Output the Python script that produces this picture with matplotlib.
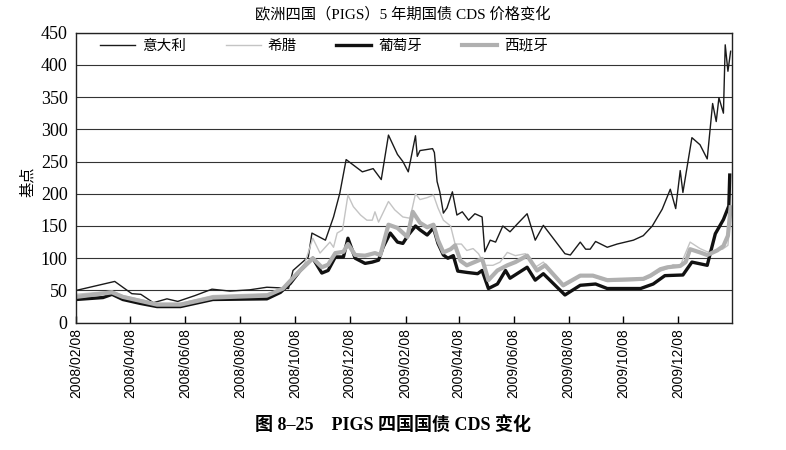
import pandas as pd
import matplotlib
matplotlib.use("Agg")
import matplotlib.pyplot as plt
import matplotlib.dates as mdates

plt.rcParams['font.family'] = ['Liberation Serif', 'Noto Sans CJK SC']

# ---- data (basis points) ----
italy_dates = ['2008-02-08', '2008-03-22', '2008-04-10', '2008-04-20', '2008-05-04', '2008-05-19',
               '2008-05-31', '2008-06-19', '2008-07-08', '2008-07-28', '2008-08-19', '2008-09-07',
               '2008-09-22', '2008-10-01', '2008-10-06', '2008-10-23', '2008-10-27', '2008-11-11',
               '2008-11-20', '2008-11-27', '2008-12-04', '2008-12-22', '2009-01-03', '2009-01-12',
               '2009-01-20', '2009-01-30', '2009-02-05', '2009-02-11', '2009-02-19', '2009-02-21',
               '2009-02-24', '2009-03-10', '2009-03-12', '2009-03-15', '2009-03-18', '2009-03-22',
               '2009-03-26', '2009-04-01', '2009-04-06', '2009-04-12', '2009-04-19', '2009-04-26',
               '2009-05-04', '2009-05-07', '2009-05-13', '2009-05-19', '2009-05-27', '2009-06-04',
               '2009-06-12', '2009-06-23', '2009-07-02', '2009-07-11', '2009-08-04', '2009-08-10',
               '2009-08-21', '2009-08-27', '2009-09-01', '2009-09-07', '2009-09-20', '2009-10-01',
               '2009-10-19', '2009-10-30', '2009-11-09', '2009-11-20', '2009-11-29', '2009-12-05',
               '2009-12-10', '2009-12-13', '2009-12-23', '2010-01-01', '2010-01-09', '2010-01-15',
               '2010-01-19', '2010-01-22', '2010-01-27', '2010-01-29', '2010-02-01', '2010-02-04']
italy = [50, 64, 45, 44, 31, 37,
         33, 42, 52, 49, 51, 55,
         54, 53, 81, 102, 139, 128,
         164, 201, 253, 234, 239, 222,
         291, 261, 250, 234, 290, 258,
         267, 270, 264, 219, 203, 170,
         178, 203, 167, 172, 159, 169,
         164, 110, 128, 125, 150, 141,
         153, 169, 128, 151, 107, 105,
         125, 114, 114, 126, 117, 122,
         128, 135, 150, 176, 207, 177,
         236, 202, 287, 276, 254, 340,
         312, 349, 325, 431, 390, 421]

greece_dates = ['2008-02-08', '2008-03-19', '2008-03-31', '2008-05-08', '2008-06-03', '2008-07-09',
                '2008-09-07', '2008-09-25', '2008-10-06', '2008-10-19', '2008-10-28', '2008-11-05',
                '2008-11-16', '2008-11-20', '2008-11-24', '2008-11-30', '2008-12-06', '2008-12-12',
                '2008-12-20', '2008-12-27', '2009-01-02', '2009-01-05', '2009-01-09', '2009-01-20',
                '2009-01-27', '2009-02-05', '2009-02-13', '2009-02-19', '2009-02-24', '2009-03-04',
                '2009-03-11', '2009-03-16', '2009-03-22', '2009-03-30', '2009-04-04', '2009-04-11',
                '2009-04-17', '2009-04-24', '2009-04-30', '2009-05-07', '2009-05-16', '2009-05-24',
                '2009-06-01', '2009-06-10', '2009-06-21', '2009-07-02', '2009-07-11', '2009-08-02',
                '2009-08-21', '2009-09-04', '2009-09-20', '2009-10-30', '2009-11-07', '2009-11-18',
                '2009-11-26', '2009-12-02', '2009-12-10', '2009-12-21', '2010-01-01', '2010-01-09',
                '2010-01-26', '2010-02-01', '2010-02-04']
greece = [44, 49, 42, 30, 30, 42,
          45, 50, 70, 92, 131, 108,
          125, 117, 139, 144, 198, 180,
          167, 159, 159, 172, 156, 188,
          175, 164, 162, 200, 191, 194,
          198, 178, 159, 150, 122, 122,
          112, 115, 107, 89, 89, 94,
          109, 104, 107, 86, 94, 56,
          72, 72, 64, 66, 71, 80,
          84, 90, 88, 125, 115, 110,
          114, 120, 168]

portugal_dates = ['2008-02-08', '2008-03-09', '2008-03-19', '2008-03-31', '2008-04-19', '2008-05-08',
                  '2008-06-03', '2008-07-09', '2008-09-07', '2008-09-22', '2008-10-03', '2008-10-14',
                  '2008-10-28', '2008-11-07', '2008-11-14', '2008-11-22', '2008-12-01', '2008-12-06',
                  '2008-12-14', '2008-12-25', '2009-01-02', '2009-01-09', '2009-01-14', '2009-01-22',
                  '2009-01-30', '2009-02-05', '2009-02-11', '2009-02-19', '2009-02-24', '2009-03-04',
                  '2009-03-11', '2009-03-16', '2009-03-22', '2009-03-27', '2009-04-02', '2009-04-07',
                  '2009-04-17', '2009-04-29', '2009-05-04', '2009-05-11', '2009-05-21', '2009-05-30',
                  '2009-06-04', '2009-06-23', '2009-07-02', '2009-07-11', '2009-08-04', '2009-08-21',
                  '2009-09-07', '2009-09-20', '2009-10-27', '2009-11-10', '2009-11-23', '2009-12-13',
                  '2009-12-23', '2010-01-09', '2010-01-18', '2010-01-27', '2010-02-02', '2010-02-03']
portugal = [36, 39, 44, 36, 30, 25,
            25, 36, 37, 47, 61, 81,
            100, 77, 81, 102, 102, 131,
            100, 92, 94, 97, 117, 139,
            125, 123, 136, 150, 144, 136,
            147, 123, 105, 100, 104, 80,
            78, 76, 81, 53, 60, 81,
            69, 86, 66, 76, 43, 58,
            60, 53, 53, 60, 73, 74,
            94, 89, 138, 160, 181, 229]

spain_dates = ['2008-02-08', '2008-03-19', '2008-03-31', '2008-05-08', '2008-06-03', '2008-07-09',
               '2008-09-07', '2008-09-25', '2008-10-11', '2008-10-28', '2008-11-07', '2008-11-14',
               '2008-11-22', '2008-12-01', '2008-12-06', '2008-12-14', '2008-12-25', '2009-01-05',
               '2009-01-11', '2009-01-20', '2009-01-30', '2009-02-10', '2009-02-16', '2009-02-24',
               '2009-03-04', '2009-03-11', '2009-03-16', '2009-03-22', '2009-03-30', '2009-04-04',
               '2009-04-10', '2009-04-17', '2009-04-29', '2009-05-04', '2009-05-11', '2009-05-21',
               '2009-06-01', '2009-06-10', '2009-06-23', '2009-07-04', '2009-07-13', '2009-08-02',
               '2009-08-21', '2009-09-04', '2009-09-20', '2009-10-30', '2009-11-07', '2009-11-18',
               '2009-11-26', '2009-12-10', '2009-12-16', '2009-12-21', '2010-01-01', '2010-01-09',
               '2010-01-20', '2010-01-27', '2010-02-01', '2010-02-04']
spain = [40, 47, 40, 28, 28, 39,
         42, 53, 77, 100, 86, 90,
         108, 110, 122, 105, 104, 108,
         105, 152, 147, 133, 172, 155,
         148, 152, 128, 109, 114, 120,
         96, 89, 96, 99, 66, 81,
         89, 94, 104, 81, 89, 58,
         73, 73, 66, 68, 73, 83,
         86, 88, 94, 114, 109, 105,
         112, 119, 135, 179]

tick_dates = pd.date_range('2008-02-08', '2009-12-08', freq=pd.DateOffset(months=2))

fig = plt.figure(figsize=(7.86, 4.5), dpi=100)
ax = fig.add_axes([0.0967, 0.2829, 0.834, 0.6447])

ax.plot(pd.to_datetime(italy_dates), italy, color='#1a1a1a', lw=1.0, label='意大利')
ax.plot(pd.to_datetime(greece_dates), greece, color='#c4c4c4', lw=1.0, label='希腊')
ax.plot(pd.to_datetime(portugal_dates), portugal, color='#111111', lw=2.4, label='葡萄牙')
ax.plot(pd.to_datetime(spain_dates), spain, color='#b0b0b0', lw=3.0, label='西班牙')

ax.set_xlim(pd.Timestamp('2008-02-08'), pd.Timestamp('2010-02-05'))
ax.set_ylim(0, 450)
ax.set_yticks(range(0, 451, 50))
ax.yaxis.grid(True, color='#333333', lw=0.8)
ax.set_axisbelow(True)

ax.set_xticks(tick_dates)
ax.xaxis.set_major_formatter(mdates.DateFormatter('%Y/%m/%d'))
for lab in ax.get_xticklabels():
    lab.set_rotation(90)
    lab.set_family('Liberation Sans')
    lab.set_fontsize(10)
ax.tick_params(axis='x', direction='in', length=5, width=1, pad=4)
ax.tick_params(axis='y', length=0, labelsize=13, pad=6)

for s in ax.spines.values():
    s.set_color('#222222')
    s.set_linewidth(1.0)

ax.set_ylabel('基点', fontsize=11)
ax.yaxis.set_label_coords(-0.063, 0.485)

ax.legend(loc='center left', bbox_to_anchor=(0.0366, 0.954), ncol=4, frameon=False,
          borderpad=0, borderaxespad=0,
          handlelength=2.4, handletextpad=0.5, columnspacing=2.7, fontsize=10.5)

fig.text(0.513, 0.969, '欧洲四国（PIGS）5 年期国债 CDS 价格变化', ha='center', va='center', fontsize=11)
fig.text(0.5, 0.055, '图 8–25　PIGS 四国国债 CDS 变化', ha='center', va='center',
         fontsize=13, fontweight='bold')

fig.savefig('out.png', dpi=100)
